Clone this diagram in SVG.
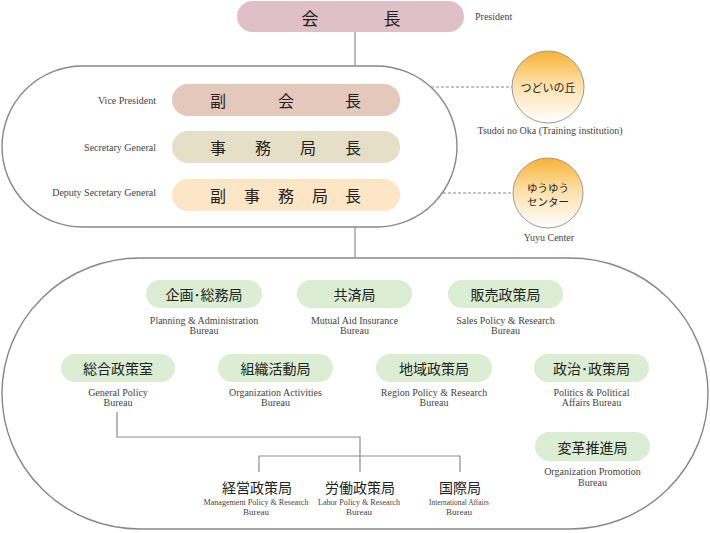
<svg xmlns="http://www.w3.org/2000/svg" width="710" height="533" viewBox="0 0 710 533">
<defs>
<linearGradient id="orb" x1="0" y1="0" x2="0" y2="1">
<stop offset="0" stop-color="#f7b232"/>
<stop offset="0.45" stop-color="#fddfa6"/>
<stop offset="1" stop-color="#ffffff"/>
</linearGradient>
<style>
.jp{font-family:"Noto Sans CJK JP","Noto Sans CJK SC",sans-serif;fill:#222;text-anchor:middle;dominant-baseline:central}
.en{font-family:"Liberation Serif",serif;fill:#444;font-size:10px}
.enc{font-family:"Liberation Serif",serif;fill:#444;font-size:10px;text-anchor:middle}
.ens{font-family:"Liberation Serif",serif;fill:#444;font-size:9px;text-anchor:middle}
.cont{fill:none;stroke:#888;stroke-width:1.4}
.ln{fill:none;stroke:#8c8c8c;stroke-width:1.2}
.dash{fill:none;stroke:#888;stroke-width:1;stroke-dasharray:3 2}
.green{fill:#dbedd3}
.orb{fill:url(#orb);stroke:#9a9a9a;stroke-width:1}
</style>
</defs>
<rect width="710" height="533" fill="#ffffff"/>

<g id="connectors">
<line class="ln" x1="355" y1="32" x2="355" y2="66"/>
<line class="ln" x1="355" y1="227" x2="355" y2="258"/>
<line class="dash" x1="431" y1="87" x2="512" y2="87"/>
<line class="dash" x1="443" y1="193" x2="513" y2="193"/>
<polyline class="ln" points="117,412 117,437 360,437 360,472"/>
<polyline class="ln" points="259,472 259,456 460,456 460,472"/>
</g>

<g id="containers">
<rect class="cont" x="2" y="66" width="455" height="161" rx="80.5" ry="80.5"/>
<rect class="cont" x="2" y="258" width="706" height="271" rx="138" ry="135.5"/>
</g>

<g id="president">
<rect x="237" y="1" width="227" height="31" rx="15.5" fill="#dfc0c7"/>
<text class="jp" x="310" y="17" font-size="17">会</text>
<text class="jp" x="392" y="17" font-size="17">長</text>
<text class="en" x="475" y="20">President</text>
</g>

<g id="vice-president">
<rect x="172" y="84" width="228" height="32" rx="16" fill="#e4c8bc"/>
<text class="jp" x="218" y="100" font-size="16">副</text>
<text class="jp" x="286" y="100" font-size="16">会</text>
<text class="jp" x="353" y="100" font-size="16">長</text>
<text class="en" x="156" y="104" text-anchor="end">Vice President</text>
</g>

<g id="secretary-general">
<rect x="172" y="131" width="228" height="32" rx="16" fill="#e6dfc8"/>
<text class="jp" x="218" y="147" font-size="16">事</text>
<text class="jp" x="263" y="147" font-size="16">務</text>
<text class="jp" x="308" y="147" font-size="16">局</text>
<text class="jp" x="353" y="147" font-size="16">長</text>
<text class="en" x="156" y="151" text-anchor="end">Secretary General</text>
</g>

<g id="deputy-secretary-general">
<rect x="172" y="179" width="228" height="32" rx="16" fill="#fde6c6"/>
<text class="jp" x="218" y="195" font-size="16">副</text>
<text class="jp" x="252" y="195" font-size="16">事</text>
<text class="jp" x="286" y="195" font-size="16">務</text>
<text class="jp" x="320" y="195" font-size="16">局</text>
<text class="jp" x="353" y="195" font-size="16">長</text>
<text class="en" x="156" y="196" text-anchor="end">Deputy Secretary General</text>
</g>

<g id="tsudoi">
<circle class="orb" cx="548" cy="87" r="36"/>
<text class="jp" x="548" y="87" font-size="11">つどいの丘</text>
<text class="enc" x="550" y="134">Tsudoi no Oka (Training institution)</text>
</g>

<g id="yuyu">
<circle class="orb" cx="548" cy="193" r="35"/>
<text class="jp" x="548" y="187" font-size="10.5">ゆうゆう</text>
<text class="jp" x="548" y="201.5" font-size="10.5">センター</text>
<text class="enc" x="549" y="241">Yuyu Center</text>
</g>

<g id="planning">
<rect class="green" x="146" y="280" width="116" height="28" rx="14"/>
<text class="jp" x="204" y="294" font-size="14">企画･総務局</text>
<text class="enc" x="204" y="324">Planning &amp; Administration</text>
<text class="enc" x="204" y="334">Bureau</text>
</g>

<g id="mutual-aid">
<rect class="green" x="297" y="280" width="115" height="28" rx="14"/>
<text class="jp" x="354.5" y="294" font-size="14">共済局</text>
<text class="enc" x="354.5" y="324">Mutual Aid Insurance</text>
<text class="enc" x="354.5" y="334">Bureau</text>
</g>

<g id="sales">
<rect class="green" x="448" y="280" width="115" height="28" rx="14"/>
<text class="jp" x="505.5" y="294" font-size="14">販売政策局</text>
<text class="enc" x="505.5" y="324">Sales Policy &amp; Research</text>
<text class="enc" x="505.5" y="334">Bureau</text>
</g>

<g id="general-policy">
<rect class="green" x="61" y="354" width="114" height="28" rx="14"/>
<text class="jp" x="118" y="368" font-size="14">総合政策室</text>
<text class="enc" x="118" y="396">General Policy</text>
<text class="enc" x="118" y="406">Bureau</text>
</g>

<g id="organization-activities">
<rect class="green" x="218" y="354" width="115" height="28" rx="14"/>
<text class="jp" x="275.5" y="368" font-size="14">組織活動局</text>
<text class="enc" x="275.5" y="396">Organization Activities</text>
<text class="enc" x="275.5" y="406">Bureau</text>
</g>

<g id="region-policy">
<rect class="green" x="376" y="354" width="116" height="28" rx="14"/>
<text class="jp" x="434" y="368" font-size="14">地域政策局</text>
<text class="enc" x="434" y="396">Region Policy &amp; Research</text>
<text class="enc" x="434" y="406">Bureau</text>
</g>

<g id="politics">
<rect class="green" x="534" y="354" width="115" height="28" rx="14"/>
<text class="jp" x="591.5" y="368" font-size="14">政治･政策局</text>
<text class="enc" x="591.5" y="396">Politics &amp; Political</text>
<text class="enc" x="591.5" y="406">Affairs Bureau</text>
</g>

<g id="organization-promotion">
<rect class="green" x="535" y="432" width="115" height="29" rx="14.5"/>
<text class="jp" x="592.5" y="446.5" font-size="14">変革推進局</text>
<text class="enc" x="592.5" y="475">Organization Promotion</text>
<text class="enc" x="592.5" y="486">Bureau</text>
</g>

<g id="management-policy">
<text class="jp" x="257" y="486.5" font-size="14">経営政策局</text>
<text class="ens" x="256" y="505" textLength="105" lengthAdjust="spacingAndGlyphs">Management Policy &amp; Research</text>
<text class="ens" x="256" y="515">Bureau</text>
</g>

<g id="labor-policy">
<text class="jp" x="360" y="486.5" font-size="14">労働政策局</text>
<text class="ens" x="359" y="505" textLength="82" lengthAdjust="spacingAndGlyphs">Labor Policy &amp; Research</text>
<text class="ens" x="359" y="515">Bureau</text>
</g>

<g id="international">
<text class="jp" x="460" y="486.5" font-size="14">国際局</text>
<text class="ens" x="459" y="505" textLength="60" lengthAdjust="spacingAndGlyphs">International Affairs</text>
<text class="ens" x="459" y="515">Bureau</text>
</g>
</svg>
